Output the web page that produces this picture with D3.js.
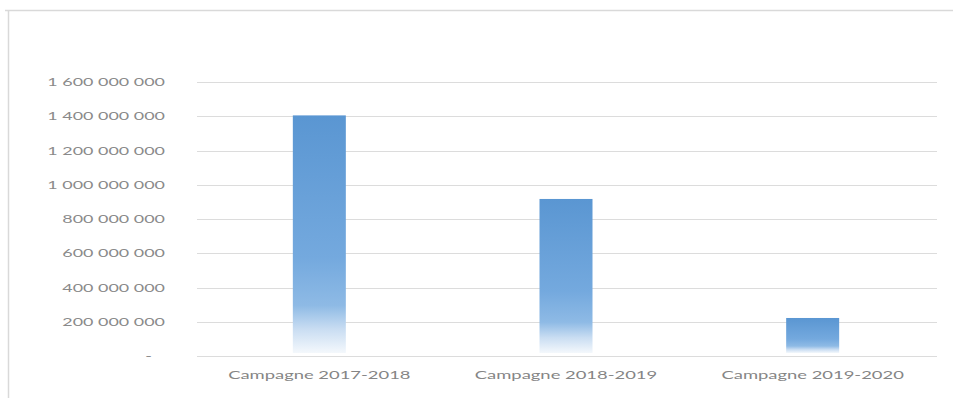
<!DOCTYPE html>
<html>
<head>
<meta charset="utf-8">
<script src="https://cdn.jsdelivr.net/npm/d3@7"></script>
<style>
  html, body { margin: 0; padding: 0; background: #fff; }
  svg { display: block; }
</style>
</head>
<body>
<script>
// Amounts per campaign
const categories = ["Campagne 2017-2018", "Campagne 2018-2019", "Campagne 2019-2020"];
const values = [1405000000, 917000000, 222000000];
const yTicks = [0, 200000000, 400000000, 600000000, 800000000, 1000000000, 1200000000, 1400000000, 1600000000];

const W = 953, H = 398;
const margin = { top: 82, right: 16, bottom: 42, left: 197 };
const stretch = 1.6; // wide, condensed-looking labels

const svg = d3.select("body").append("svg").attr("width", W).attr("height", H);

// Bar gradient: solid blue on top, fading out towards the baseline
const defs = svg.append("defs");
const grad = defs.append("linearGradient").attr("id", "barFill")
  .attr("x1", 0).attr("y1", 0).attr("x2", 0).attr("y2", 1);
[[0, "#5a96d2"], [0.6, "#74a9de"], [0.8, "#8ebae5"], [0.9, "#c9ddf2"], [1, "#f4f8fc"]]
  .forEach(([o, c]) => grad.append("stop").attr("offset", o).attr("stop-color", c));

// Chart area frame
svg.append("path")
  .attr("d", `M5,10.5H${W}M8.5,10V${H}`)
  .attr("stroke", "#d9d9d9").attr("stroke-width", 1.5).attr("fill", "none");

const x = d3.scaleBand().domain(categories)
  .range([margin.left, W - margin.right]).padding(0);
const y = d3.scaleLinear().domain([0, 1600000000])
  .range([H - margin.bottom, margin.top]);

const fmt = v => v === 0 ? "-" : d3.format(",")(v).replace(/,/g, " ");

// Gridlines
svg.append("g").selectAll("line").data(yTicks).join("line")
  .attr("x1", margin.left).attr("x2", W - margin.right)
  .attr("y1", d => Math.round(y(d)) + 0.5).attr("y2", d => Math.round(y(d)) + 0.5)
  .attr("stroke", "#dcdcdc").attr("stroke-width", 1.2);

// Y axis labels
const yAxis = svg.append("g").attr("transform", `translate(${margin.left},0)`)
  .call(d3.axisLeft(y).tickValues(yTicks).tickFormat(fmt).tickSize(0).tickPadding(0));
yAxis.select(".domain").remove();
yAxis.selectAll("text")
  .attr("x", d => (d === 0 ? -45 : -32) / stretch)
  .attr("transform", `scale(${stretch},1)`)
  .attr("fill", "#8a8a8a")
  .style("font-family", "Lato, 'Open Sans', sans-serif")
  .style("font-size", "11.2px");

// Bars
const barW = 53;
svg.append("g").selectAll("rect").data(values).join("rect")
  .attr("x", (d, i) => x(categories[i]) + x.bandwidth() / 2 - barW / 2 - 1)
  .attr("y", d => y(d))
  .attr("width", barW)
  .attr("height", d => y(0) - y(d) - 3)
  .attr("fill", "url(#barFill)");

// X axis labels
const xAxis = svg.append("g").attr("transform", `translate(0,${H - margin.bottom})`)
  .call(d3.axisBottom(x).tickSize(0).tickPadding(15));
xAxis.select(".domain").remove();
xAxis.selectAll(".tick").each(function (d) {
  const t = d3.select(this);
  const cx = x(d) + x.bandwidth() / 2 - 1;
  t.attr("transform", `translate(${cx},0) scale(${stretch},1)`);
});
xAxis.selectAll("text")
  .attr("fill", "#858585")
  .style("font-family", "Lato, 'Open Sans', sans-serif")
  .style("font-size", "11.5px");
</script>
</body>
</html>
